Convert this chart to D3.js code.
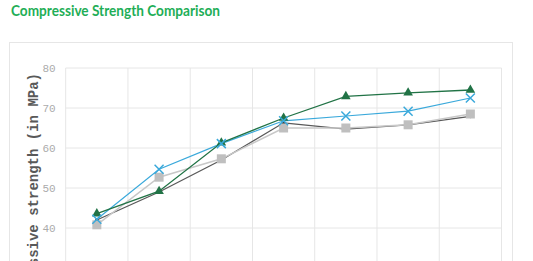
<!DOCTYPE html>
<html><head><meta charset="utf-8">
<script src="https://cdn.jsdelivr.net/npm/d3@7"></script>
<style>html,body{margin:0;padding:0;background:#fff;overflow:hidden}</style>
</head><body>
<svg id="c" width="533" height="261"></svg>
<script>
const categories = ["1","2","3","4","5","6","7"];
const seriesDark  = [42.0, 49.0, 57.0, 66.3, 64.7, 65.8, 67.9];
const seriesLight = [40.8, 52.7, 57.3, 65.0, 65.0, 65.8, 68.5];
const seriesBlue  = [42.2, 54.7, 61.1, 66.8, 68.0, 69.2, 72.5];
const seriesGreen = [43.6, 49.2, 61.3, 67.5, 72.9, 73.8, 74.5];
const yTicks = [40, 50, 60, 70, 80];

const svg = d3.select("#c");
svg.append("rect").attr("x",9.5).attr("y",42.5).attr("width",503).attr("height",300)
  .attr("fill","#fff").attr("stroke","#e6e6e6").attr("stroke-width",1);

svg.append("text").attr("x",11).attr("y",16).attr("fill","#1fae57")
  .attr("font-family","Lato, 'Open Sans', sans-serif").attr("font-weight","bold")
  .attr("font-size",14.5).attr("textLength",209).attr("lengthAdjust","spacingAndGlyphs")
  .text("Compressive Strength Comparison");

const x = d3.scaleBand().domain(categories).range([65.7, 501.5]);
const y = d3.scaleLinear().domain([20, 80]).range([308, 68]);

const grid = svg.append("g");
const bounds = categories.map(c => x(c)).concat([x.range()[1]]);
grid.selectAll("line.v").data(bounds).join("line")
  .attr("x1", d => d).attr("x2", d => d).attr("y1", y(80)).attr("y2", 300)
  .attr("stroke","#e6e6e6").attr("stroke-width",1);
const gTicks = d3.range(20, 81, 10);
grid.selectAll("line.h").data(gTicks).join("line")
  .attr("x1", x.range()[0]).attr("x2", x.range()[1]).attr("y1", d => y(d)).attr("y2", d => y(d))
  .attr("stroke","#e6e6e6").attr("stroke-width",1);

const yAxis = d3.axisLeft(y).tickValues(yTicks).tickSize(0).tickPadding(10);
const ga = svg.append("g").attr("transform", `translate(${x.range()[0]},0)`).call(yAxis);
ga.select(".domain").remove();
ga.selectAll("text").attr("fill","#ababab")
  .attr("font-family","'Liberation Mono', 'DejaVu Sans Mono', monospace").attr("font-size",11);

svg.append("text").attr("transform","translate(38,73) rotate(-90)")
  .attr("text-anchor","end").attr("fill","#595959")
  .attr("font-family","'Liberation Mono', 'DejaVu Sans Mono', monospace")
  .attr("font-weight","bold").attr("font-size",14)
  .text("Compressive strength (in MPa)");

const cx = c => x(c) + x.bandwidth()/2;
const line = d3.line().x((d,i) => cx(categories[i])).y(d => y(d));

function drawLine(vals, color, w){
  svg.append("path").datum(vals).attr("d", line).attr("fill","none")
    .attr("stroke", color).attr("stroke-width", w);
}
drawLine(seriesDark, "#595959", 1.3);
svg.append("g").selectAll("circle").data(seriesDark).join("circle")
  .attr("cx",(d,i)=>cx(categories[i])).attr("cy",d=>y(d)).attr("r",1.8).attr("fill","#404040");
drawLine(seriesLight, "#c8c8c8", 1.5);
svg.append("g").selectAll("rect").data(seriesLight).join("rect")
  .attr("x",(d,i)=>cx(categories[i])-4.5).attr("y",d=>y(d)-4.5).attr("width",9).attr("height",9)
  .attr("fill","#bfbfbf");
drawLine(seriesBlue, "#3aa9db", 1.2);
drawLine(seriesGreen, "#217346", 1.3);

const sym = d3.symbol().type(d3.symbolTriangle).size(40);
svg.append("g").selectAll("path").data(seriesGreen).join("path")
  .attr("transform",(d,i)=>`translate(${cx(categories[i])},${y(d)})`).attr("d", sym())
  .attr("fill","#217346");
svg.append("g").selectAll("path").data(seriesBlue).join("path")
  .attr("transform",(d,i)=>`translate(${cx(categories[i])},${y(d)})`)
  .attr("d","M-4.5,-4.5L4.5,4.5M-4.5,4.5L4.5,-4.5")
  .attr("stroke","#3aa9db").attr("stroke-width",1.5).attr("fill","none");
</script>
</body></html>
